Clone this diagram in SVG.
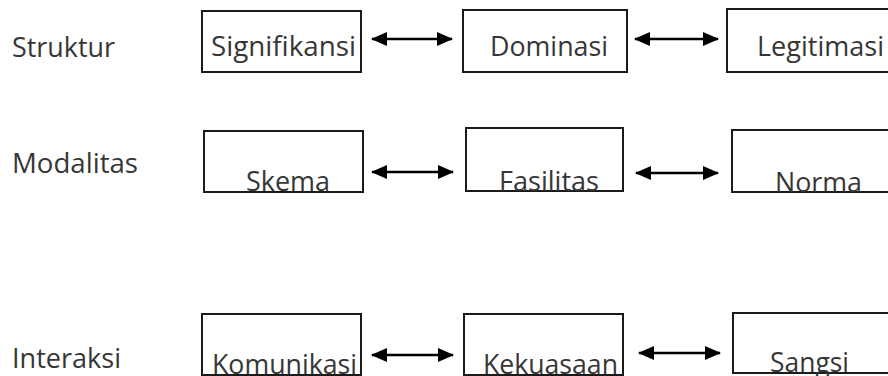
<svg xmlns="http://www.w3.org/2000/svg" width="888" height="376" viewBox="0 0 888 376">
  <style>
    .box { fill: #ffffff; stroke: #1a1a1a; stroke-width: 2; }
    .lbl { font-family: "Open Sans", "Liberation Sans", sans-serif; font-size: 28px; fill: #363636; }
    .link { stroke: #000000; stroke-width: 2.6; fill: none; marker-start: url(#head); marker-end: url(#head); }
  </style>
  <defs>
    <marker id="head" markerUnits="userSpaceOnUse" markerWidth="16" markerHeight="14" refX="15" refY="7" orient="auto-start-reverse">
      <path d="M0,0 L16,7 L0,14 z" fill="#000000"/>
    </marker>
  </defs>

  <rect width="888" height="376" fill="#ffffff"/>

  <!-- row labels -->
  <g id="label-struktur"><text class="lbl" x="12" y="57" textLength="103" lengthAdjust="spacingAndGlyphs">Struktur</text></g>
  <g id="label-modalitas"><text class="lbl" x="12" y="173" textLength="126" lengthAdjust="spacingAndGlyphs">Modalitas</text></g>
  <g id="label-interaksi"><text class="lbl" x="12" y="368" textLength="109" lengthAdjust="spacingAndGlyphs">Interaksi</text></g>

  <!-- structure row -->
  <g id="signifikansi">
    <rect class="box" x="202" y="11" width="159" height="61"/>
    <text class="lbl" x="211" y="56" textLength="145" lengthAdjust="spacingAndGlyphs">Signifikansi</text>
  </g>
  <g id="dominasi">
    <rect class="box" x="463" y="10" width="164" height="62"/>
    <text class="lbl" x="490" y="56" textLength="118" lengthAdjust="spacingAndGlyphs">Dominasi</text>
  </g>
  <g id="legitimasi">
    <rect class="box" x="727" y="9" width="180" height="63"/>
    <text class="lbl" x="757" y="56" textLength="127" lengthAdjust="spacingAndGlyphs">Legitimasi</text>
  </g>

  <!-- modality row -->
  <g id="skema">
    <rect class="box" x="204" y="131" width="159" height="61"/>
    <text class="lbl" x="246" y="191" textLength="84" lengthAdjust="spacingAndGlyphs">Skema</text>
  </g>
  <g id="fasilitas">
    <rect class="box" x="466" y="128" width="157" height="63"/>
    <text class="lbl" x="499" y="191" textLength="100" lengthAdjust="spacingAndGlyphs">Fasilitas</text>
  </g>
  <g id="norma">
    <rect class="box" x="732" y="130" width="180" height="62"/>
    <text class="lbl" x="775" y="192" textLength="87" lengthAdjust="spacingAndGlyphs">Norma</text>
  </g>

  <!-- interaction row -->
  <g id="komunikasi">
    <rect class="box" x="202" y="314" width="159" height="61"/>
    <text class="lbl" x="212" y="374" textLength="145" lengthAdjust="spacingAndGlyphs">Komunikasi</text>
  </g>
  <g id="kekuasaan">
    <rect class="box" x="464" y="314" width="159" height="61"/>
    <text class="lbl" x="483" y="374" textLength="135" lengthAdjust="spacingAndGlyphs">Kekuasaan</text>
  </g>
  <g id="sangsi">
    <rect class="box" x="733" y="313" width="180" height="60"/>
    <text class="lbl" x="770" y="372" textLength="79" lengthAdjust="spacingAndGlyphs">Sangsi</text>
  </g>

  <!-- two-way connectors -->
  <g id="connectors">
    <line class="link" x1="372" y1="39" x2="452" y2="39"/>
    <line class="link" x1="635" y1="39" x2="718" y2="39"/>
    <line class="link" x1="372" y1="172" x2="453" y2="172"/>
    <line class="link" x1="636" y1="173" x2="718" y2="173"/>
    <line class="link" x1="372" y1="355" x2="453" y2="355"/>
    <line class="link" x1="639" y1="353" x2="720" y2="353"/>
  </g>
</svg>
